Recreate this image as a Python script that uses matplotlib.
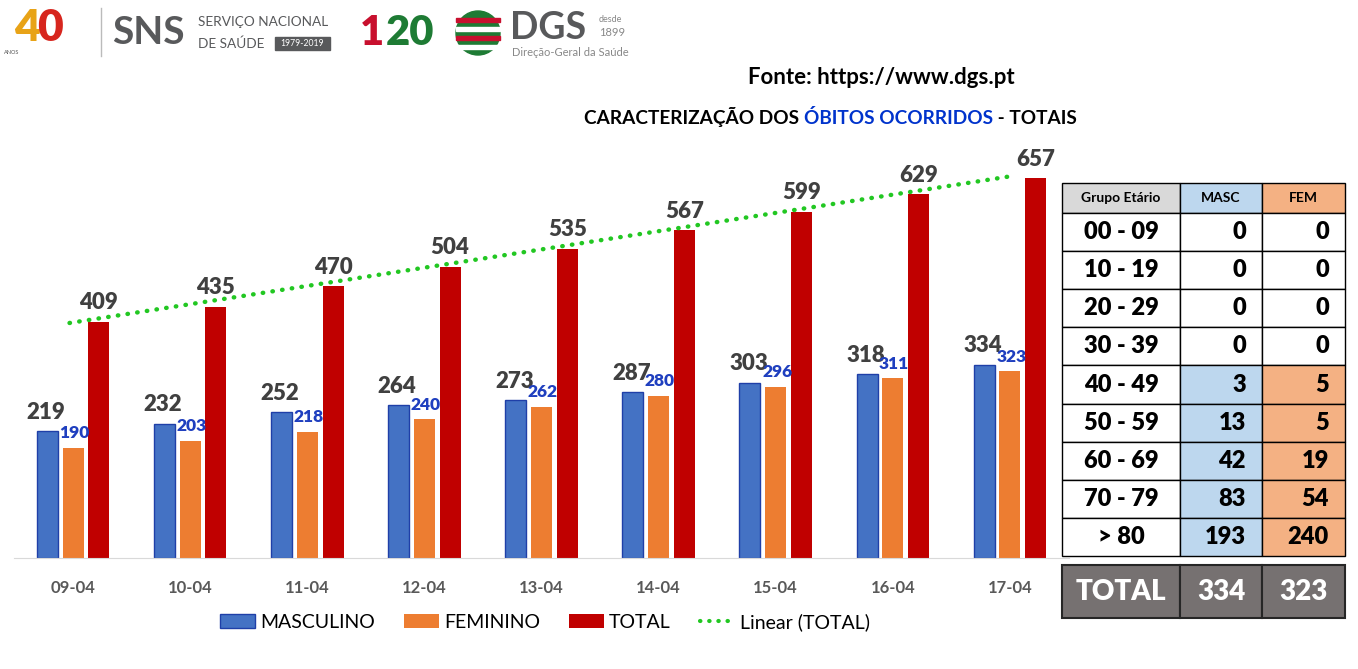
import numpy as np
import matplotlib.pyplot as plt
from matplotlib.patches import Rectangle
from matplotlib.lines import Line2D

plt.rcParams['font.family'] = ['Lato', 'DejaVu Sans']

# chart data
dates = ['09-04', '10-04', '11-04', '12-04', '13-04', '14-04', '15-04', '16-04', '17-04']
masculino = [219, 232, 252, 264, 273, 287, 303, 318, 334]
feminino = [190, 203, 218, 240, 262, 280, 296, 311, 323]
total = [409, 435, 470, 504, 535, 567, 599, 629, 657]

# table data
age_groups = ['00 - 09', '10 - 19', '20 - 29', '30 - 39', '40 - 49',
              '50 - 59', '60 - 69', '70 - 79', '> 80']
masc_age = [0, 0, 0, 0, 3, 13, 42, 83, 193]
fem_age = [0, 0, 0, 0, 5, 5, 19, 54, 240]
table_header = ['Grupo Etário', 'MASC', 'FEM']

W, H = 1358, 669
fig = plt.figure(figsize=(W / 100, H / 100), dpi=100)


def fx(px):
    return px / W


def fy(py):
    return 1 - py / H


# main bar chart
ax = fig.add_axes([fx(14.5), fy(558), fx(1054), (558 - 153.4) / H])
x = np.arange(len(dates))
bw = 0.18
off = 0.22
ax.bar(x - off, masculino, bw, color='#4472C4', edgecolor='#1F3FA8', linewidth=1, label='MASCULINO')
ax.bar(x, feminino, bw, color='#ED7D31', label='FEMININO')
ax.bar(x + off, total, bw, color='#C00000', label='TOTAL')

# linear trend of the totals
coef = np.polyfit(x, total, 1)
tx = np.array([x[0] - 0.03, x[-1]])
ax.plot(tx, np.polyval(coef, tx), color='#22C722', lw=3.2,
        linestyle=(0, (0.1, 2.1)), dash_capstyle='round', label='Linear (TOTAL)')

for i in range(len(dates)):
    ax.annotate(str(total[i]), (x[i] + off, total[i]), xytext=(0, 9), textcoords='offset points',
                ha='center', va='baseline', fontsize=16, fontweight='heavy', color='#404040')
    ax.annotate(str(masculino[i]), (x[i] - off, masculino[i]), xytext=(-1, 9), textcoords='offset points',
                ha='center', va='baseline', fontsize=16, fontweight='heavy', color='#404040')
    ax.annotate(str(feminino[i]), (x[i], feminino[i]), xytext=(1, 7), textcoords='offset points',
                ha='center', va='baseline', fontsize=12.5, fontweight='heavy', color='#1F3FBF')

ax.set_xlim(-0.5, len(dates) - 0.5)
ax.set_ylim(0, 700)
ax.set_xticks(x)
ax.set_xticklabels(dates, fontsize=12, fontweight='bold', color='#595959')
ax.tick_params(axis='x', length=0, pad=16)
ax.set_yticks([])
for s in ['top', 'right', 'left']:
    ax.spines[s].set_visible(False)
ax.spines['bottom'].set_color('#D9D9D9')
ax.patch.set_alpha(0)

handles = [Rectangle((0, 0), 1, 1, facecolor='#4472C4', edgecolor='#1F3FA8'),
           Rectangle((0, 0), 1, 1, facecolor='#ED7D31'),
           Rectangle((0, 0), 1, 1, facecolor='#C00000'),
           Line2D([], [], color='#22C722', lw=3, linestyle=(0, (0.1, 2.1)), dash_capstyle='round')]
fig.legend(handles, ['MASCULINO', 'FEMININO', 'TOTAL', 'Linear (TOTAL)'], ncol=4,
           loc='center', bbox_to_anchor=(fx(545), fy(622)), frameon=False, fontsize=14,
           handlelength=1.8, handleheight=0.7, columnspacing=1.5, handletextpad=0.25)

# overlay in pixel coordinates for titles, logos and table
ov = fig.add_axes([0, 0, 1, 1], zorder=5)
ov.set_xlim(0, W)
ov.set_ylim(H, 0)
ov.axis('off')
ov.patch.set_alpha(0)

ov.text(881, 77, 'Fonte: https://www.dgs.pt', ha='center', va='center',
        fontsize=16, fontweight='bold', color='#000000')
t1 = ov.text(584, 117, 'CARACTERIZAÇÃO DOS ', ha='left', va='center',
             fontsize=13.7, fontweight='bold', color='#000000')
t2 = ov.annotate('ÓBITOS OCORRIDOS', xy=(1, 0), xycoords=t1, va='bottom', ha='left',
                 fontsize=13.7, fontweight='bold', color='#0033CC')
ov.annotate(' - TOTAIS', xy=(1, 0), xycoords=t2, va='bottom', ha='left',
            fontsize=13.7, fontweight='bold', color='#000000')

# logos (text approximation)
l4 = ov.text(14, 28, '4', fontsize=32, fontweight='heavy', color='#E8A317', va='center', ha='left')
ov.annotate('0', xy=(0.9, 0), xycoords=l4, va='bottom', ha='left',
            fontsize=32, fontweight='heavy', color='#D7261E')
ov.text(4, 53, 'ANOS', fontsize=4, color='#555555', va='center')
ov.plot([101, 101], [8, 56], color='#BBBBBB', lw=1)
ov.text(112, 33, 'SNS', fontsize=28, fontweight='bold', color='#58595B', va='center', ha='left')
ov.text(198, 22, 'SERVIÇO NACIONAL', fontsize=9.8, color='#58595B', va='center', ha='left')
ov.text(198, 44, 'DE SAÚDE', fontsize=9.8, color='#58595B', va='center', ha='left')
ov.add_patch(Rectangle((275, 37), 55, 13, color='#58595B'))
ov.text(302.5, 43.5, '1979-2019', fontsize=6.2, color='white', va='center', ha='center')
ov.text(360, 33, '1', fontsize=30, fontweight='heavy', color='#C8102E', va='center', ha='left')
ov.text(386, 33, '20', fontsize=30, fontweight='heavy', color='#1E7B34', va='center', ha='left')
ov.add_patch(plt.Circle((478, 33), 22, color='#1E7B34'))
for k, yy in enumerate([18, 27, 36, 45]):
    ov.add_patch(Rectangle((456, yy), 44, 4, color='#C8102E' if k % 2 == 0 else 'white'))
ov.text(510, 28, 'DGS', fontsize=27, fontweight='bold', color='#58595B', va='center', ha='left')
ov.text(599, 19, 'desde', fontsize=6.5, color='#888888', va='center', ha='left')
ov.text(599, 32, '1899', fontsize=8, color='#888888', va='center', ha='left')
ov.text(512, 53, 'Direção-Geral da Saúde', fontsize=8, color='#888888', va='center', ha='left')

# table of age groups
cx = [1062, 1180, 1262, 1345]
head_top, head_bot = 183, 213
row_h = (556 - head_bot) / len(age_groups)
head_colors = ['#D9D9D9', '#BDD7EE', '#F4B183']
for j in range(3):
    ov.add_patch(Rectangle((cx[j], head_top), cx[j + 1] - cx[j], head_bot - head_top,
                           facecolor=head_colors[j], edgecolor='black', lw=1))
    ov.text((cx[j] + cx[j + 1]) / 2, (head_top + head_bot) / 2, table_header[j],
            ha='center', va='center', fontsize=10, fontweight='bold')
for i, grp in enumerate(age_groups):
    top = head_bot + i * row_h
    cm = '#BDD7EE' if masc_age[i] > 0 else 'white'
    cf = '#F4B183' if fem_age[i] > 0 else 'white'
    for j, c in enumerate(['white', cm, cf]):
        ov.add_patch(Rectangle((cx[j], top), cx[j + 1] - cx[j], row_h,
                               facecolor=c, edgecolor='black', lw=1))
    ym = top + row_h / 2
    ov.text((cx[0] + cx[1]) / 2, ym, grp, ha='center', va='center', fontsize=17, fontweight='heavy')
    ov.text(cx[2] - 16, ym, str(masc_age[i]), ha='right', va='center', fontsize=17, fontweight='heavy')
    ov.text(cx[3] - 16, ym, str(fem_age[i]), ha='right', va='center', fontsize=17, fontweight='heavy')

tot_top, tot_bot = 565, 618
tot_vals = ['TOTAL', str(sum(masc_age)), str(sum(fem_age))]
for j in range(3):
    ov.add_patch(Rectangle((cx[j], tot_top), cx[j + 1] - cx[j], tot_bot - tot_top,
                           facecolor='#767171', edgecolor='#262626', lw=1.5))
    ov.text((cx[j] + cx[j + 1]) / 2, (tot_top + tot_bot) / 2, tot_vals[j],
            ha='center', va='center', fontsize=20, fontweight='heavy', color='white')

fig.savefig('out.png', dpi=100)
